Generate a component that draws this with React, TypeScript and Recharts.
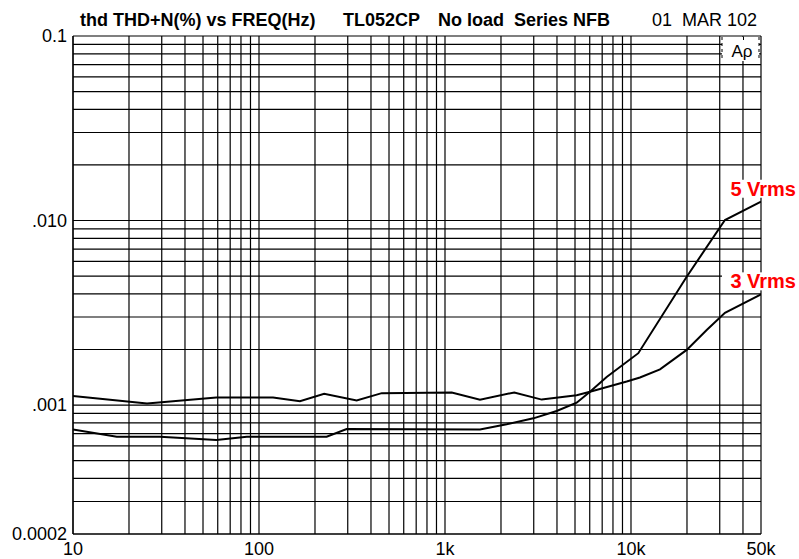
import React from 'react';
import { LineChart, Line, XAxis, YAxis, CartesianGrid, LabelList } from 'recharts';

const FONT = "'Liberation Sans', Arial, Helvetica, sans-serif";

// 3 Vrms series (upper flat curve at low frequency)
const freq3 = [10, 25, 59, 119, 166, 224, 335, 457, 1087, 1542, 2358, 3311, 5105, 6020, 9483, 11175, 14320, 19930, 25530, 32000, 50000];
const thd3 = [0.00112, 0.00102, 0.0011, 0.0011, 0.00105, 0.00115, 0.00106, 0.00116, 0.00117, 0.00107, 0.00117, 0.00107, 0.00113, 0.00118, 0.00134, 0.00141, 0.00156, 0.00199, 0.00255, 0.00316, 0.00398];

// 5 Vrms series (lower flat curve, steep rise above 5 kHz)
const freq5 = [10, 17.2, 29.4, 59, 86, 231, 296, 1542, 2146, 2985, 3985, 5105, 6020, 7400, 10950, 19930, 32000, 50000];
const thd5 = [0.000738, 0.000673, 0.000673, 0.000646, 0.000673, 0.000673, 0.000741, 0.000738, 0.000786, 0.000847, 0.000928, 0.00103, 0.00118, 0.00142, 0.00191, 0.00496, 0.01006, 0.01264];

const seriesNames = ['3 Vrms', '5 Vrms'];

const xGridTicks = [10, 20, 30, 40, 50, 60, 70, 80, 90, 100, 200, 300, 400, 500, 600, 700, 800, 900, 1000, 2000, 3000, 4000, 5000, 6000, 7000, 8000, 9000, 10000, 20000, 30000, 40000, 50000];
const xLabelValues = [10, 100, 1000, 10000, 50000];
const xLabelTexts = ['10', '100', '1k', '10k', '50k'];

const yGridTicks = [0.0002, 0.0003, 0.0004, 0.0005, 0.0006, 0.0007, 0.0008, 0.0009, 0.001, 0.002, 0.003, 0.004, 0.005, 0.006, 0.007, 0.008, 0.009, 0.01, 0.02, 0.03, 0.04, 0.05, 0.06, 0.07, 0.08, 0.09, 0.1];
const yLabelValues = [0.1, 0.01, 0.001, 0.0002];
const yLabelTexts = ['0.1', '.010', '.001', '0.0002'];

const data3 = freq3.map((f, i) => ({ f, v: thd3[i] }));
const data5 = freq5.map((f, i) => ({ f, v: thd5[i] }));

const fmtX = (v: number) => {
  const i = xLabelValues.findIndex((t) => Math.abs(t - v) < 1e-6);
  return i >= 0 ? xLabelTexts[i] : '';
};
const fmtY = (v: number) => {
  const i = yLabelValues.findIndex((t) => Math.abs(t - v) / t < 1e-6);
  return i >= 0 ? yLabelTexts[i] : '';
};

const makeEndLabel = (name: string, n: number) => (props: any) => {
  const { x, y, index } = props;
  if (index !== n - 1) return null;
  return (
    <g>
      <rect x={x - 39} y={y - 22} width={78} height={18} fill="#fff" />
      <text x={x + 35} y={y - 6} textAnchor="end" fontFamily={FONT} fontWeight="bold" fontSize={20} fill="#ff0000">
        {name}
      </text>
    </g>
  );
};

export default function App() {
  return (
    <div style={{ position: 'absolute', left: 0, top: 0, width: 799, height: 559, background: '#fff' }}>
      <LineChart width={799} height={559} margin={{ top: 36, right: 38, bottom: 0, left: 0 }}>
        <CartesianGrid stroke="#000" strokeWidth={1.2} />
        <XAxis
          dataKey="f"
          type="number"
          scale="log"
          domain={[10, 50000]}
          allowDataOverflow
          ticks={xGridTicks}
          interval={0}
          tickFormatter={fmtX}
          tickLine={false}
          tickMargin={2}
          axisLine={{ stroke: '#000', strokeWidth: 1.2 }}
          height={25}
          tick={{ fontSize: 18, fill: '#000', fontFamily: FONT }}
        />
        <YAxis
          dataKey="v"
          type="number"
          scale="log"
          domain={[0.0002, 0.1]}
          allowDataOverflow
          ticks={yGridTicks}
          interval={0}
          tickFormatter={fmtY}
          tickLine={false}
          tickMargin={0}
          axisLine={{ stroke: '#000', strokeWidth: 1.2 }}
          width={73}
          tick={{ fontSize: 18, fill: '#000', fontFamily: FONT }}
        />
        <Line data={data3} dataKey="v" type="linear" stroke="#000" strokeWidth={2} dot={false} isAnimationActive={false}>
          <LabelList dataKey="v" content={makeEndLabel(seriesNames[0], data3.length)} />
        </Line>
        <Line data={data5} dataKey="v" type="linear" stroke="#000" strokeWidth={2} dot={false} isAnimationActive={false}>
          <LabelList dataKey="v" content={makeEndLabel(seriesNames[1], data5.length)} />
        </Line>
      </LineChart>
      <svg width={799} height={559} style={{ position: 'absolute', left: 0, top: 0, pointerEvents: 'none' }}>
        <g fontFamily={FONT} fontSize={18} fill="#000">
          <text x={80} y={26} fontWeight="bold">thd THD+N(%) vs FREQ(Hz)</text>
          <text x={343} y={26} fontWeight="bold">TL052CP</text>
          <text x={438} y={26} fontWeight="bold">No load</text>
          <text x={514} y={26} fontWeight="bold">Series NFB</text>
          <text x={652} y={26}>01</text>
          <text x={682} y={26}>MAR 102</text>
        </g>
        <rect x={722} y={37} width={37} height={24} fill="#fff" />
        <line x1={722} y1={37} x2={722} y2={61} stroke="#000" strokeDasharray="3 3" />
        <line x1={759} y1={37} x2={759} y2={61} stroke="#000" strokeDasharray="3 3" />
        <line x1={743.5} y1={37} x2={743.5} y2={61} stroke="#000" strokeDasharray="3 3" />
        <rect x={729} y={40} width={26} height={20} fill="#fff" />
        <text x={731.5} y={57} fontFamily={FONT} fontSize={17} fill="#000">Aρ</text>
      </svg>
    </div>
  );
}
